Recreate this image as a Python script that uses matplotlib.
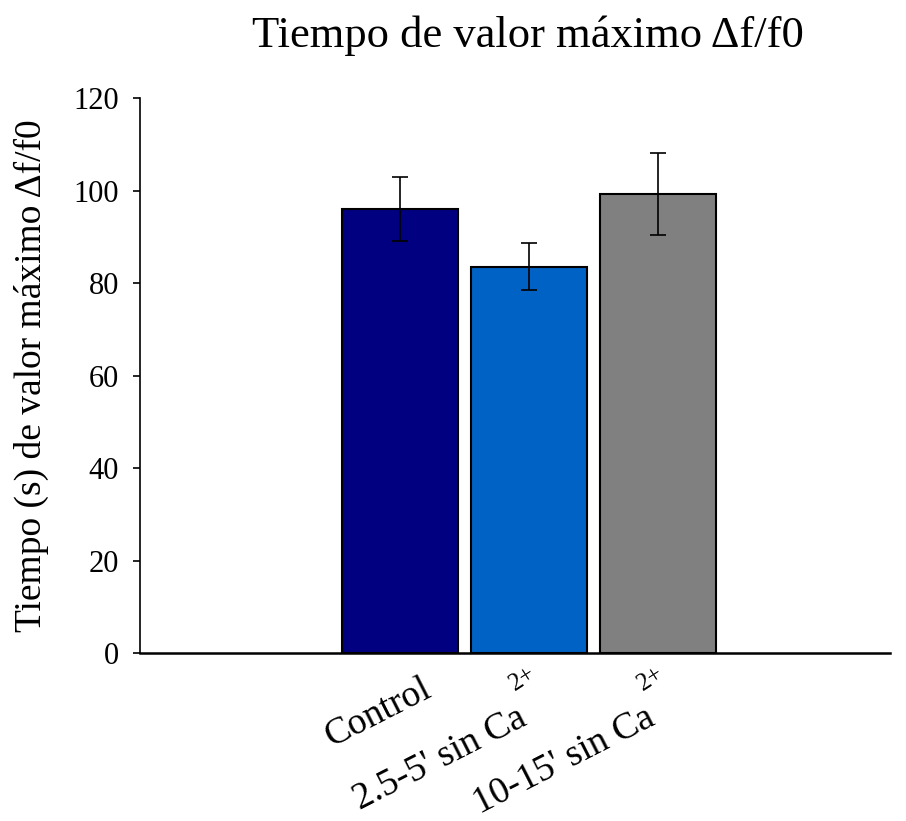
import numpy as np
import matplotlib.pyplot as plt

plt.rcParams['font.family'] = ['Liberation Serif', 'DejaVu Serif']

categories = ["Control", "2.5-5' sin Ca", "10-15' sin Ca"]
superscripts = ["", "2+", "2+"]
values = [96.0, 83.5, 99.2]
errors = [7.0, 5.1, 8.9]
colors = ['#000080', '#0062C4', '#808080']

fig = plt.figure(figsize=(9.06, 8.21), dpi=100)
ax = fig.add_axes([0.1545, 0.2046, 0.8275, 0.676])

x = np.arange(len(categories))
ax.bar(x, values, width=0.9, color=colors, edgecolor='black', linewidth=1.5,
       yerr=errors, capsize=5.8, error_kw=dict(elinewidth=1.2, capthick=1.2, ecolor='black'))

ax.set_xlim(-2.02, 3.80)
ax.set_ylim(0, 120)
ax.set_yticks(np.arange(0, 121, 20))
ax.tick_params(axis='y', labelsize=22, direction='out', length=5, width=1.2, pad=10)
ax.set_xticks([])

# rotated category labels, superscript raised like in the original
rot = 27
for xi, lab, sup in zip(x, categories, superscripts):
    if sup:
        off = (-0.7, -51.1)
    else:
        off = (23.8, -30.2)
    ax.annotate(lab, xy=(xi, 0), xycoords='data', xytext=off, textcoords='offset points',
                rotation=rot, rotation_mode='anchor', ha='right', va='baseline',
                fontsize=27, annotation_clip=False)
    if sup:
        ax.annotate(sup, xy=(xi, 0), xycoords='data', xytext=(-10.5, -27.5),
                    textcoords='offset points', rotation=33, rotation_mode='anchor',
                    ha='left', va='baseline', fontsize=18, annotation_clip=False)

ax.spines['top'].set_visible(False)
ax.spines['right'].set_visible(False)
ax.spines['left'].set_linewidth(1.2)
ax.spines['bottom'].set_linewidth(1.8)

ax.set_ylabel("Tiempo (s) de valor máximo Δf/f0", fontsize=27)
ax.yaxis.set_label_coords(-0.122, 0.5)
fig.text(0.583, 0.981, "Tiempo de valor máximo Δf/f0", fontsize=32, ha='center', va='top')

fig.savefig("out.png", dpi=100)
